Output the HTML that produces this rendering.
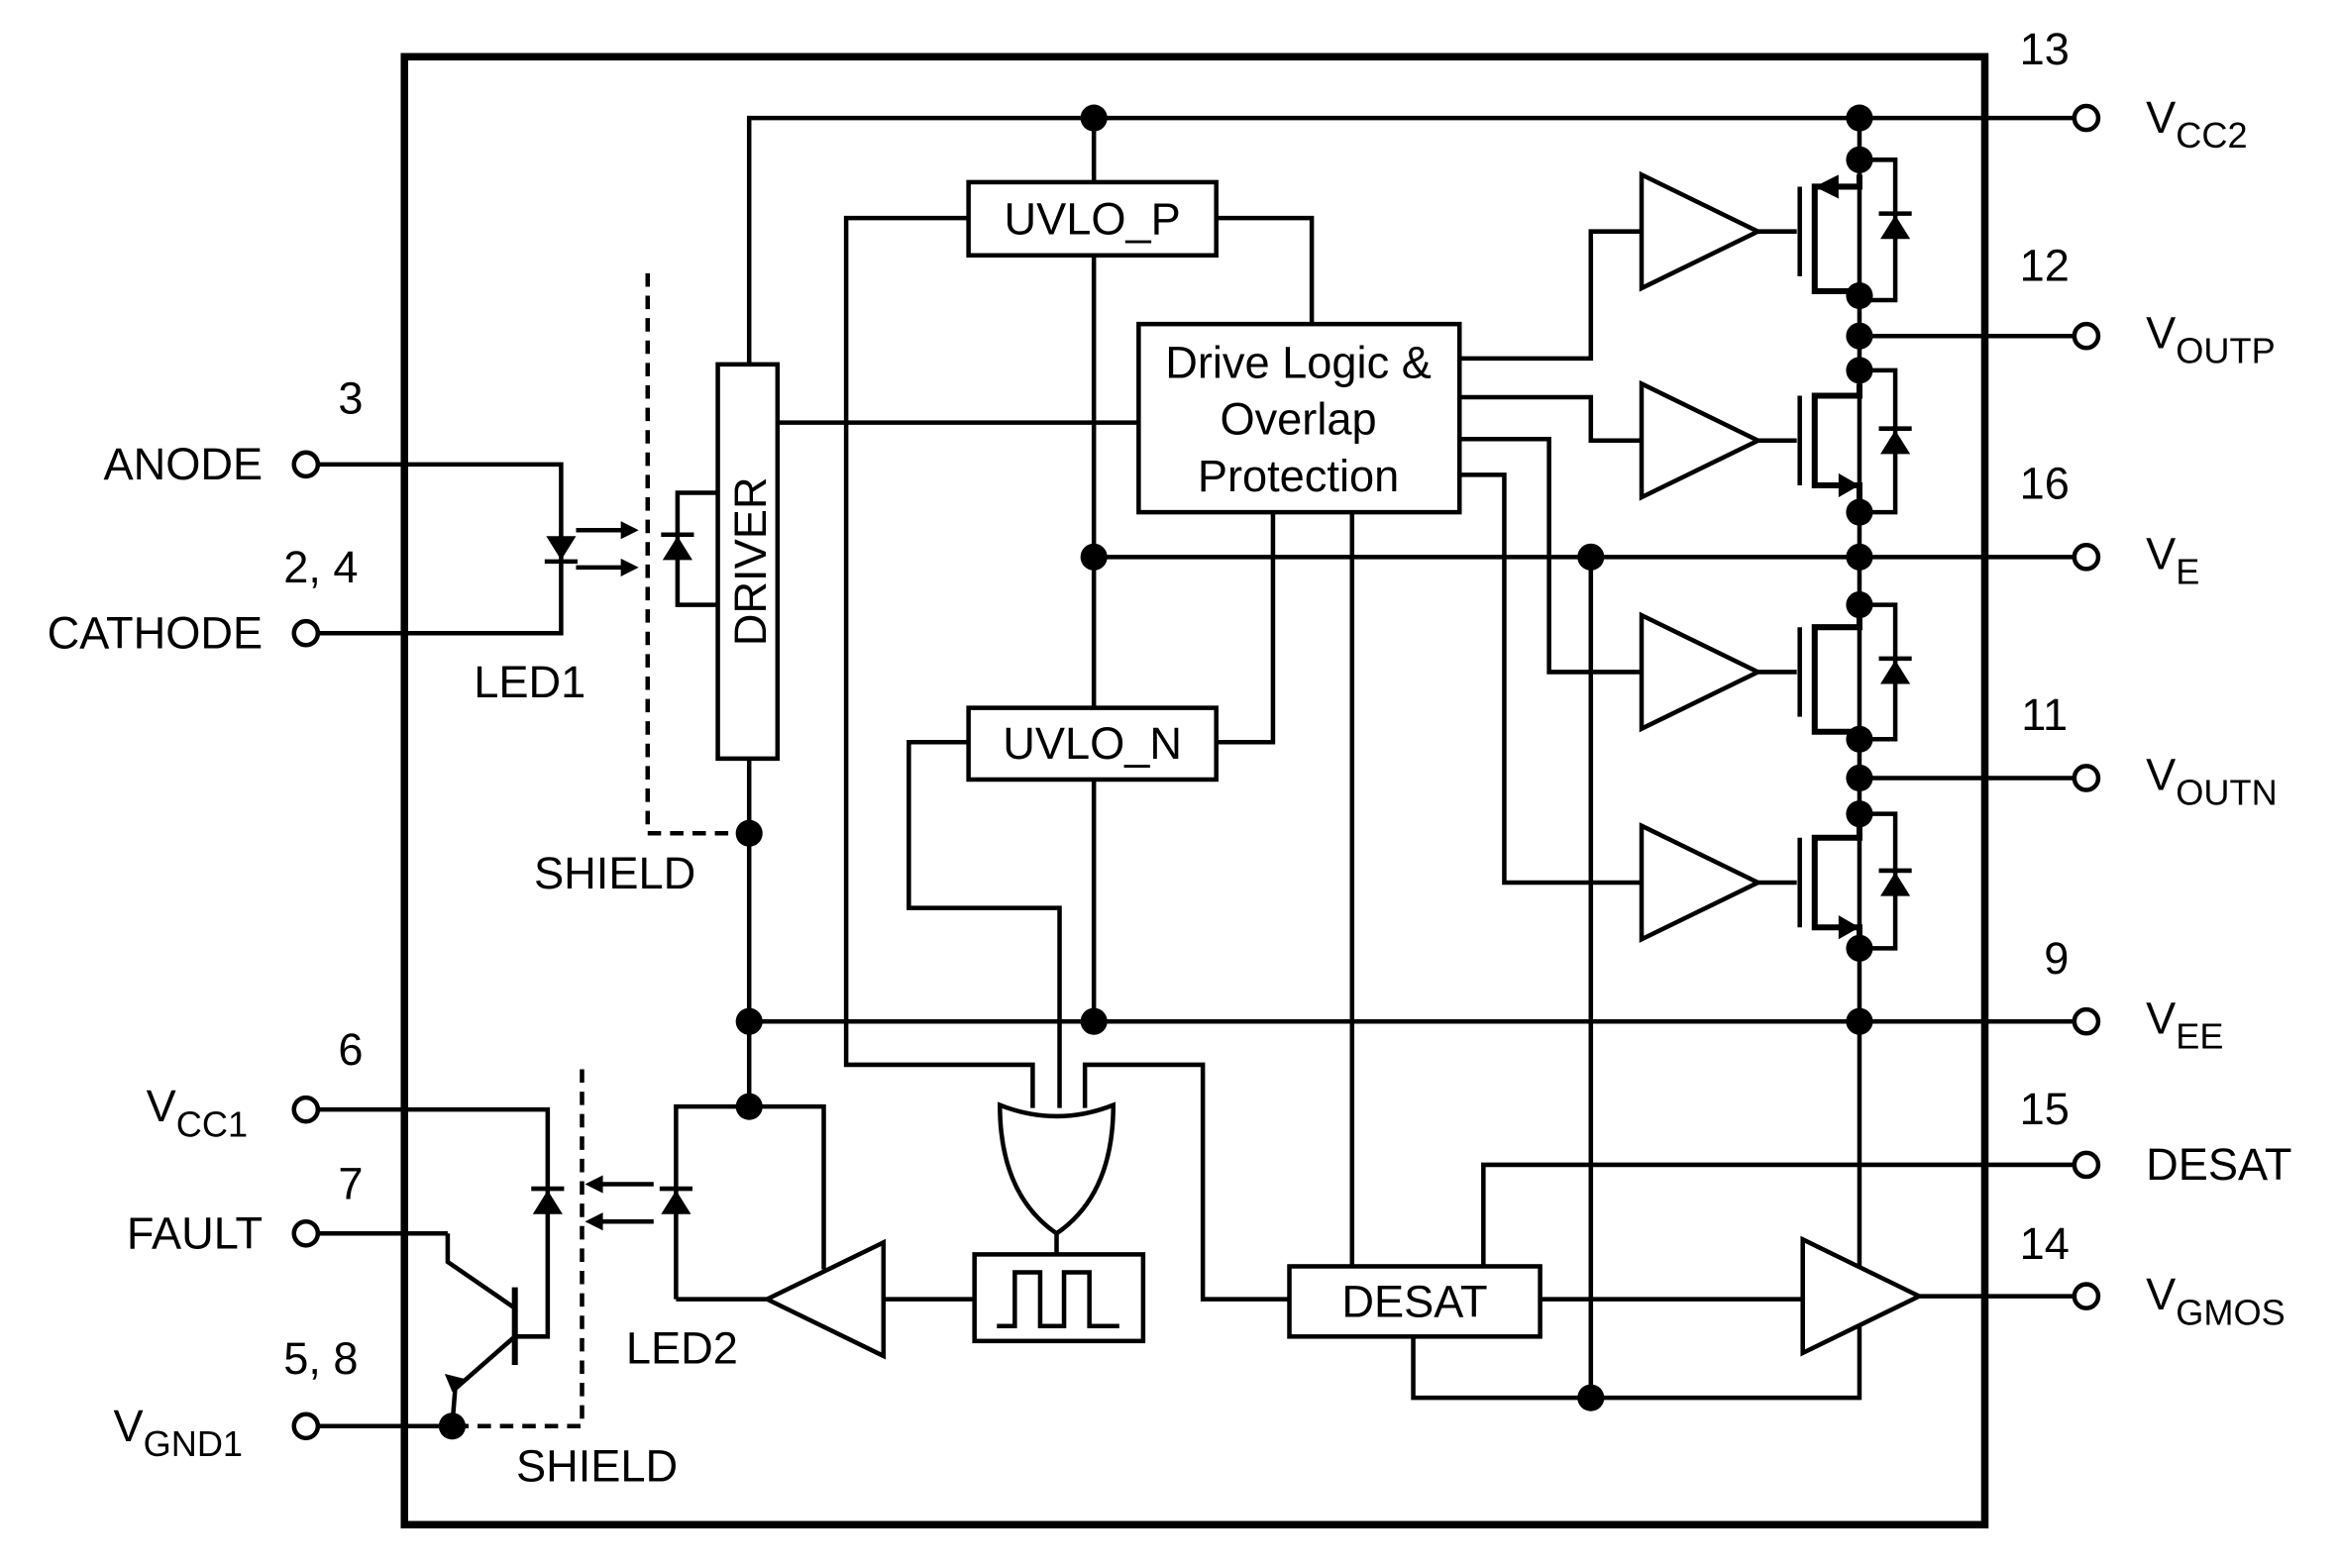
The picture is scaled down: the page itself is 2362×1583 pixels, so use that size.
<!DOCTYPE html>
<html><head><meta charset="utf-8"><style>
html,body{margin:0;padding:0;background:#fff}
svg{display:block}
text{font-family:"Liberation Sans",sans-serif;font-size:30px;fill:#000}
.s{font-size:24px}
</style></head><body>
<svg width="2362" height="1583" viewBox="0 0 1568 1050" preserveAspectRatio="none" xmlns="http://www.w3.org/2000/svg">
<defs>
<g id="amp"><polygon points="0,-38 78,0 0,38" fill="#fff" stroke="#000" stroke-width="3"/></g>
<g id="dio"><polygon points="-10,8 10,8 0,-8" fill="#000"/><line x1="-11" y1="-9" x2="11" y2="-9" stroke="#000" stroke-width="3"/></g>
</defs>
<g stroke="#000" stroke-width="3" fill="none">
<rect x="271" y="38" width="1059" height="983" stroke-width="5"/>
<polyline points="502,244 502,79 1390,79"/>
<rect x="481" y="244" width="40" height="264"/>
<line x1="502" y1="508" x2="502" y2="741"/>
<polyline points="434,183 434,558 502,558" stroke-dasharray="9,6"/>
<polyline points="481,330 454,330 454,405 481,405"/>
<polyline points="213,311 376,311 376,424 213,424"/>
<line x1="386" y1="355" x2="424" y2="355"/><line x1="386" y1="380" x2="424" y2="380"/>
<line x1="521" y1="283" x2="763" y2="283"/>
<rect x="763" y="217" width="215" height="126"/>
<rect x="649" y="122" width="166" height="49"/>
<rect x="649" y="474" width="166" height="48"/>
<line x1="733" y1="79" x2="733" y2="122"/>
<line x1="733" y1="171" x2="733" y2="474"/>
<line x1="733" y1="522" x2="733" y2="684"/>
<polyline points="649,146 567,146 567,713 692,713 692,742"/>
<polyline points="815,146 879,146 879,217"/>
<polyline points="815,497 853,497 853,343"/>
<polyline points="649,497 609,497 609,608 710,608 710,742"/>
<line x1="733" y1="373" x2="1390" y2="373"/>
<line x1="502" y1="684" x2="1390" y2="684"/>
<line x1="906" y1="343" x2="906" y2="848"/>
<polyline points="978,240 1066,240 1066,155 1100,155"/>
<polyline points="978,266 1066,266 1066,295 1100,295"/>
<polyline points="978,294 1038,294 1038,450 1100,450"/>
<polyline points="978,318 1008,318 1008,591 1100,591"/>
<line x1="1246" y1="79" x2="1246" y2="850"/>
<line x1="1246" y1="225" x2="1390" y2="225"/>
<line x1="1246" y1="521" x2="1390" y2="521"/>
<line x1="1066" y1="373" x2="1066" y2="936"/>
<polyline points="947,895 947,936 1246,936 1246,887"/>
<rect x="864" y="848" width="168" height="47"/>
<line x1="1032" y1="870" x2="1210" y2="870"/>
<line x1="1285" y1="868" x2="1390" y2="868"/>
<polyline points="994,848 994,780 1390,780"/>
<polyline points="864,870 806,870 806,713 727,713 727,742"/>
<path d="M670,740 Q708,755 746,740 Q746,800 708,826 Q670,800 670,740 Z"/>
<line x1="708" y1="826" x2="708" y2="840"/>
<rect x="653" y="840" width="113" height="58"/>
<polyline points="668,888 680,888 680,852 697,852 697,888 713,888 713,852 730,852 730,888 750,888"/>
<line x1="653" y1="870" x2="592" y2="870"/>
<polyline points="453,870 453,741 552,741 552,850"/>
<line x1="453" y1="870" x2="516" y2="870"/>
<line x1="396" y1="793" x2="438" y2="793"/><line x1="396" y1="818" x2="438" y2="818"/>
<polyline points="390,716 390,955 300,955" stroke-dasharray="9,6"/>
<polyline points="213,743 367,743 367,895 345,895"/>
<line x1="213" y1="826" x2="300" y2="826"/>
<polyline points="300,826 300,845 345,876"/>
<line x1="345" y1="862" x2="345" y2="914" stroke-width="4"/>
<polyline points="345,895 305,930 303,955"/>
<line x1="213" y1="955" x2="303" y2="955"/>
<g fill="#fff">
<circle cx="205" cy="311" r="8"/><circle cx="205" cy="424" r="8"/><circle cx="205" cy="743" r="8"/><circle cx="205" cy="826" r="8"/><circle cx="205" cy="955" r="8"/>
<circle cx="1398" cy="79" r="8"/><circle cx="1398" cy="225" r="8"/><circle cx="1398" cy="373" r="8"/><circle cx="1398" cy="521" r="8"/><circle cx="1398" cy="684" r="8"/><circle cx="1398" cy="780" r="8"/><circle cx="1398" cy="868" r="8"/>
</g>
</g>
<g fill="#000">
<polygon points="428,355 416,349 416,361"/><polygon points="428,380 416,374 416,386"/>
<polygon points="392,793 404,787 404,799"/><polygon points="392,818 404,812 404,824"/>
<polygon points="303,932 298,920 314,924"/>
</g>
<use href="#dio" transform="translate(376,367) rotate(180)"/>
<use href="#dio" transform="translate(454,367)"/>
<use href="#dio" transform="translate(453,805)"/>
<use href="#dio" transform="translate(367,805)"/>
<use href="#amp" transform="translate(1100,155)"/>
<use href="#amp" transform="translate(1100,295)"/>
<use href="#amp" transform="translate(1100,450)"/>
<use href="#amp" transform="translate(1100,591)"/>
<use href="#amp" transform="translate(1208,868)"/>
<use href="#amp" transform="translate(592,870) scale(-1,1)"/>
<g stroke="#000" stroke-width="3" fill="none">
<g transform="translate(0,155)"><line x1="1178" y1="0" x2="1204" y2="0"/><line x1="1206" y1="-30" x2="1206" y2="30"/><polyline points="1246,-38 1246,-30 1216,-30 1216,40 1246,40 1246,43" stroke-width="4"/><polyline points="1246,-48 1270,-48 1270,46 1246,46"/></g>
<g transform="translate(0,295)"><line x1="1178" y1="0" x2="1204" y2="0"/><line x1="1206" y1="-30" x2="1206" y2="30"/><polyline points="1246,-38 1246,-30 1216,-30 1216,30 1246,30 1246,48" stroke-width="4"/><polyline points="1246,-47 1270,-47 1270,48 1246,48"/></g>
<g transform="translate(0,450)"><line x1="1178" y1="0" x2="1204" y2="0"/><line x1="1206" y1="-30" x2="1206" y2="30"/><polyline points="1246,-38 1246,-30 1216,-30 1216,40 1246,40 1246,43" stroke-width="4"/><polyline points="1246,-45 1270,-45 1270,45 1246,45"/></g>
<g transform="translate(0,591)"><line x1="1178" y1="0" x2="1204" y2="0"/><line x1="1206" y1="-30" x2="1206" y2="30"/><polyline points="1246,-38 1246,-30 1216,-30 1216,30 1246,30 1246,48" stroke-width="4"/><polyline points="1246,-46 1270,-46 1270,44 1246,44"/></g>
</g>
<g fill="#000">
<polygon points="1216,-30 1232,-38 1232,-22" transform="translate(0,155)"/>
<polygon points="1246,325 1232,317 1232,333"/>
<polygon points="1246,621 1232,613 1232,629"/>
</g>
<use href="#dio" transform="translate(1270,152)"/>
<use href="#dio" transform="translate(1270,296)"/>
<use href="#dio" transform="translate(1270,450)"/>
<use href="#dio" transform="translate(1270,592)"/>
<g fill="#000">
<circle cx="733" cy="79" r="9"/><circle cx="1246" cy="79" r="9"/>
<circle cx="1246" cy="107" r="9"/><circle cx="1246" cy="198" r="9"/><circle cx="1246" cy="225" r="9"/><circle cx="1246" cy="248" r="9"/><circle cx="1246" cy="343" r="9"/><circle cx="1246" cy="373" r="9"/><circle cx="1246" cy="405" r="9"/><circle cx="1246" cy="495" r="9"/><circle cx="1246" cy="521" r="9"/><circle cx="1246" cy="545" r="9"/><circle cx="1246" cy="635" r="9"/><circle cx="1246" cy="684" r="9"/>
<circle cx="733" cy="373" r="9"/><circle cx="1066" cy="373" r="9"/><circle cx="733" cy="684" r="9"/><circle cx="502" cy="684" r="9"/><circle cx="502" cy="558" r="9"/><circle cx="502" cy="741" r="9"/><circle cx="1066" cy="936" r="9"/><circle cx="303" cy="955" r="9"/>
</g>
<text x="870" y="253" text-anchor="middle">Drive Logic &amp;</text>
<text x="870" y="291" text-anchor="middle">Overlap</text>
<text x="870" y="329" text-anchor="middle">Protection</text>
<text x="732" y="157" text-anchor="middle">UVLO_P</text>
<text x="732" y="508" text-anchor="middle">UVLO_N</text>
<text x="948" y="882" text-anchor="middle">DESAT</text>
<text transform="translate(513,376) rotate(-90)" text-anchor="middle">DRIVER</text>
<text x="176" y="321" text-anchor="end">ANODE</text>
<text x="176" y="434" text-anchor="end">CATHODE</text>
<text x="176" y="836" text-anchor="end">FAULT</text>
<text x="98" y="751">V<tspan class="s" dy="10">CC1</tspan></text>
<text x="76" y="965">V<tspan class="s" dy="10">GND1</tspan></text>
<text x="235" y="277" text-anchor="middle">3</text>
<text x="215" y="390" text-anchor="middle">2, 4</text>
<text x="235" y="713" text-anchor="middle">6</text>
<text x="235" y="803" text-anchor="middle">7</text>
<text x="215" y="920" text-anchor="middle">5, 8</text>
<text x="355" y="467" text-anchor="middle">LED1</text>
<text x="412" y="595" text-anchor="middle">SHIELD</text>
<text x="457" y="913" text-anchor="middle">LED2</text>
<text x="400" y="992" text-anchor="middle">SHIELD</text>
<text x="1370" y="43" text-anchor="middle">13</text>
<text x="1370" y="188" text-anchor="middle">12</text>
<text x="1370" y="334" text-anchor="middle">16</text>
<text x="1370" y="489" text-anchor="middle">11</text>
<text x="1378" y="652" text-anchor="middle">9</text>
<text x="1370" y="753" text-anchor="middle">15</text>
<text x="1370" y="843" text-anchor="middle">14</text>
<text x="1438" y="89">V<tspan class="s" dy="10">CC2</tspan></text>
<text x="1438" y="233">V<tspan class="s" dy="10">OUTP</tspan></text>
<text x="1438" y="381">V<tspan class="s" dy="10">E</tspan></text>
<text x="1438" y="529">V<tspan class="s" dy="10">OUTN</tspan></text>
<text x="1438" y="692">V<tspan class="s" dy="10">EE</tspan></text>
<text x="1438" y="790">DESAT</text>
<text x="1438" y="877">V<tspan class="s" dy="10">GMOS</tspan></text>
</svg>
</body></html>
